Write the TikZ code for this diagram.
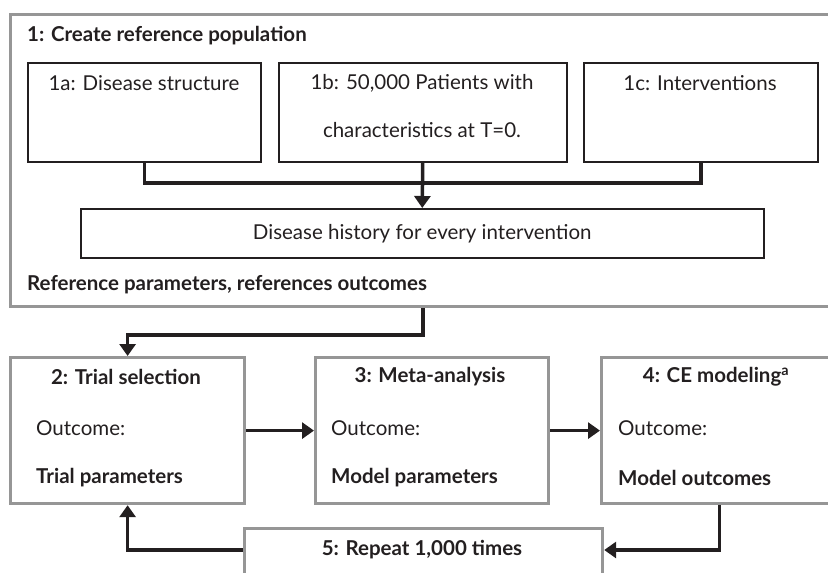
\documentclass[tikz,border=0pt]{standalone}
\usepackage{fontspec}
\setmainfont{Lato}
\usetikzlibrary{arrows.meta,calc}
\definecolor{boxgray}{RGB}{150,150,150}
\definecolor{ink}{RGB}{35,31,32}
\tikzset{
  graybox/.style={draw=boxgray,line width=3.2pt,anchor=north west,inner sep=0pt,rectangle},
  blackbox/.style={draw=ink,line width=1.5pt,anchor=north west,inner sep=0pt,rectangle},
  txt/.style={inner sep=0pt,text=ink,font=\fontsize{20.5}{22}\selectfont},
  btxt/.style={inner sep=0pt,text=ink,font=\fontsize{20.5}{22}\selectfont\bfseries},
  conn/.style={draw=ink,line width=3.5pt},
  arr/.style={conn,-{Triangle[width=16pt,length=12pt]}}
}
\begin{document}
\begin{tikzpicture}[x=1pt,y=-1pt]
\useasboundingbox (0,0) rectangle (828,573);
\clip (0,0) rectangle (828,573);
% step 1
\node[graybox,minimum width=830pt,minimum height=292pt] (b1) at (9,13) {};
\node[btxt,anchor=west] (t1) at (27,36) {1: Create reference population};
\node[btxt,anchor=west] (r1) at (27,285) {Reference parameters, references outcomes};
\node[blackbox,minimum width=233pt,minimum height=99pt] (b1a) at (27,62) {};
\node[blackbox,minimum width=288pt,minimum height=99pt] (b1b) at (278,62) {};
\node[blackbox,minimum width=234pt,minimum height=99pt] (b1c) at (583,62) {};
\node[txt] (t1a) at (144,83) {1a: Disease structure};
\node[txt] (t1b) at (422,83) {1b: 50,000 Patients with};
\node[txt] (t1b2) at (422,130) {characteristics at T=0.};
\node[txt] (t1c) at (700,83) {1c: Interventions};
\node[blackbox,minimum width=683pt,minimum height=49pt] (dh) at (80,208) {};
\node[txt] (tdh) at (dh.center) {Disease history for every intervention};
\coordinate (j1) at (422,183);
\draw[conn] (b1a.south) |- (j1) -| (b1c.south);
\draw[arr] (b1b.south) -- (dh.north);
% steps 2-4
\node[graybox,minimum width=234pt,minimum height=146pt] (b2) at (9,356) {};
\node[graybox,minimum width=233pt,minimum height=146pt] (b3) at (314,356) {};
\node[graybox,minimum width=236pt,minimum height=146pt] (b4) at (600,356) {};
\node[btxt] (t2) at (126,377) {2: Trial selection};
\node[txt,anchor=west] (o2) at (36,428) {Outcome:};
\node[btxt,anchor=west] (p2) at (36,478) {Trial parameters};
\node[btxt] (t3) at (430,377) {3: Meta-analysis};
\node[txt,anchor=west] (o3) at (331,428) {Outcome:};
\node[btxt,anchor=west] (p3) at (331,478) {Model parameters};
\node[btxt] (t4) at (716,377) {4: CE modeling\textsuperscript{a}};
\node[txt,anchor=west] (o4) at (618,428) {Outcome:};
\node[btxt,anchor=west] (p4) at (618,478) {Model outcomes};
% step 5
\node[graybox,minimum width=358pt,minimum height=60pt] (b5) at (243,527) {};
\node[btxt] (t5) at (422,550) {5: Repeat 1,000 times};
% connectors
\coordinate (s1) at (b1b.south |- b1.south);
\draw[arr] (s1) -- ++(0,27) -| (b2.north);
\draw[arr] (b2.east) -- (b3.west);
\draw[arr] (b3.east) -- (b4.west);
\coordinate (e5) at ($(b5.north east)+(0,23)$);
\coordinate (w5) at ($(b5.north west)+(0,23)$);
\draw[arr] (b4.south) |- (e5);
\draw[arr] (w5) -| (b2.south);
\end{tikzpicture}
\end{document}
